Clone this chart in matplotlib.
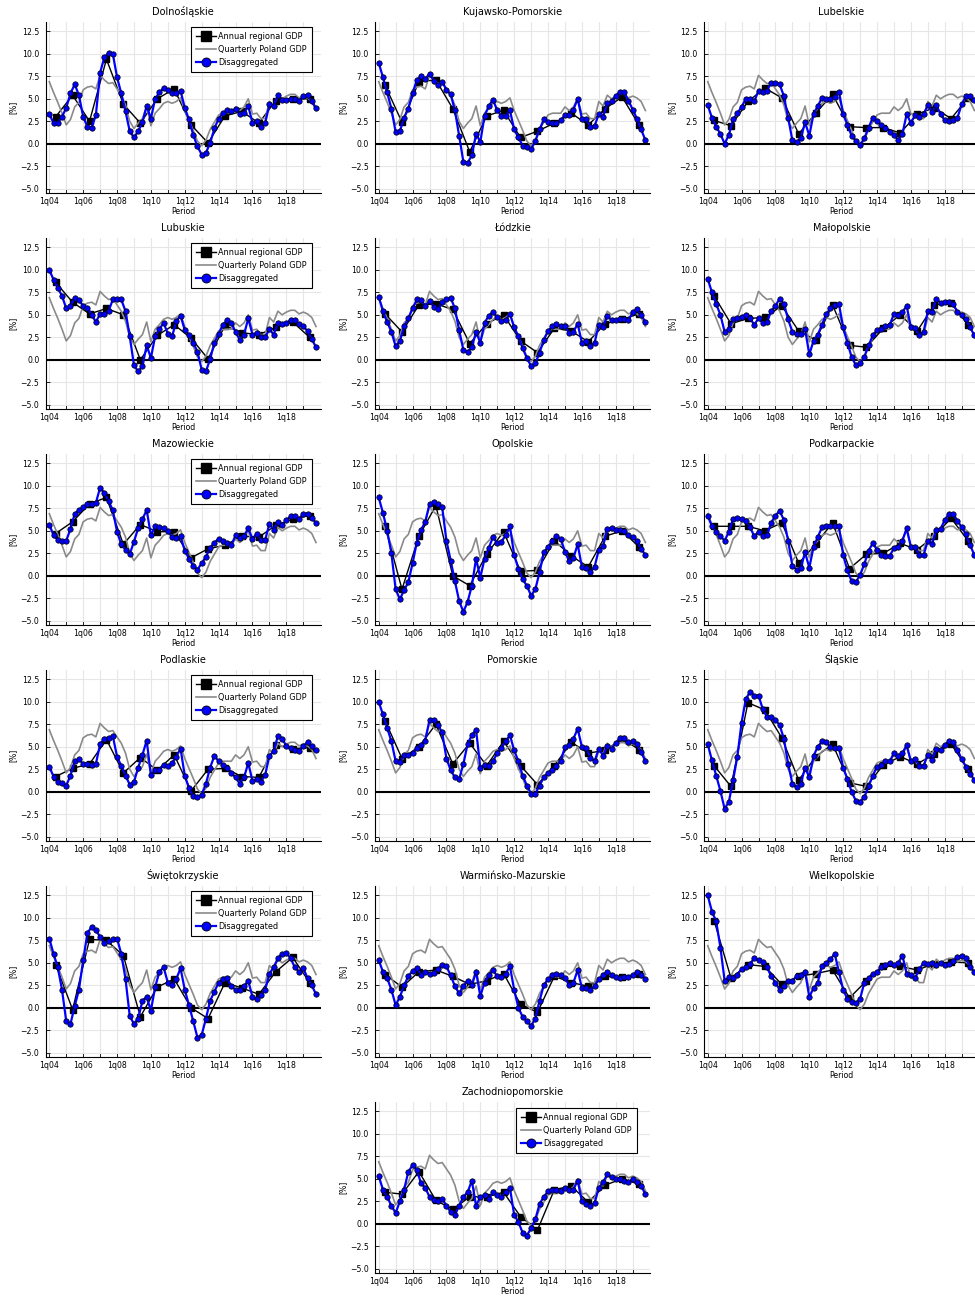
import numpy as np
import matplotlib
matplotlib.use("Agg")
import matplotlib.pyplot as plt
from matplotlib.lines import Line2D

plt.rcParams['font.family'] = ['DejaVu Sans']

# ---------------------------------------------------------------- data
# quarterly index 0..63 = 1q04 .. 4q19 ; annual values sit mid-year
tick_labels = ["1q04", "1q06", "1q08", "1q10", "1q12", "1q14", "1q16", "1q18"]
y_ticks = [-5.0, -2.5, 0.0, 2.5, 5.0, 7.5, 10.0, 12.5]
legend_labels = ["Annual regional GDP", "Quarterly Poland GDP", "Disaggregated"]

poland_quarterly = [
    6.9, 5.7, 4.6, 3.4, 2.1, 2.7, 4.1, 4.6,
    6.0, 6.3, 6.4, 6.1, 7.6, 7.1, 6.7, 6.8,
    6.1, 5.4, 4.3, 2.5, 1.7, 2.3, 2.8, 4.2,
    2.0, 3.4, 3.9, 4.5, 4.7, 4.5, 4.7, 5.1,
    3.7, 2.6, 1.5, 0.3, -0.2, 0.4, 1.6, 2.4,
    3.2, 3.4, 3.4, 3.4, 4.1, 3.7, 4.1, 5.0,
    3.3, 3.4, 2.8, 2.8, 4.7, 4.2, 5.4, 5.0,
    5.3, 5.5, 5.5, 5.1, 5.3, 5.1, 4.7, 3.7]

dolnoslaskie_q = [
    3.3, 2.3, 2.3, 3.0, 4.0, 5.6, 6.6, 5.4,
    3.0, 1.9, 1.8, 3.2, 7.9, 9.6, 10.1, 10.0,
    7.4, 5.6, 3.6, 1.4, 0.7, 1.4, 2.4, 4.2,
    2.8, 5.0, 5.7, 6.2, 6.0, 5.6, 5.6, 5.9,
    4.0, 2.7, 1.0, -0.3, -1.2, -1.0, 0.1, 1.7,
    2.8, 3.4, 3.7, 3.6, 3.9, 3.3, 3.4, 4.2,
    2.3, 2.5, 1.9, 2.3, 4.4, 4.2, 5.4, 4.9,
    4.9, 5.0, 5.0, 4.7, 5.3, 5.4, 4.7, 4.0]
dolnoslaskie_a = [3.0, 5.4, 2.5, 9.4, 4.4, 2.3, 5.0, 6.1, 2.1, 0.1, 3.1, 3.6, 2.3, 4.8, 5.0, 5.0]

kujawsko_pomorskie_q = [
    9.0, 7.4, 5.7, 3.9, 1.3, 1.4, 2.9, 3.9,
    5.6, 7.1, 7.5, 7.2, 7.8, 7.0, 6.5, 6.9,
    6.0, 5.5, 3.7, 0.9, -2.0, -2.1, -1.3, 1.1,
    0.2, 3.1, 4.2, 4.9, 3.7, 3.1, 3.1, 3.7,
    1.6, 0.7, -0.2, -0.4, -0.6, 0.3, 1.6, 2.7,
    2.4, 2.3, 2.3, 2.6, 3.2, 3.2, 3.8, 5.0,
    2.8, 2.8, 1.9, 2.0, 3.3, 3.0, 4.5, 4.7,
    5.3, 5.8, 5.7, 4.8, 3.8, 2.8, 1.6, 0.4]
kujawsko_pomorskie_a = [6.5, 2.4, 6.9, 7.1, 3.9, -0.9, 3.1, 3.7, 0.7, 1.4, 2.3, 3.4, 2.1, 3.9, 5.2, 2.1]

lubelskie_q = [
    4.3, 2.9, 1.9, 1.1, 0.0, 1.0, 2.7, 3.4,
    4.1, 5.0, 5.0, 4.7, 5.9, 5.8, 5.9, 6.8,
    6.7, 6.6, 5.3, 2.9, 0.4, 0.2, 0.6, 2.4,
    0.9, 3.3, 4.2, 5.1, 5.0, 5.0, 5.2, 5.8,
    3.3, 2.1, 0.9, 0.3, -0.1, 0.6, 1.8, 2.9,
    2.5, 2.1, 1.8, 1.3, 1.0, 0.4, 1.1, 3.3,
    2.3, 3.2, 3.0, 3.3, 4.3, 3.5, 4.3, 3.3,
    2.6, 2.5, 2.6, 2.9, 4.4, 5.3, 5.3, 4.9]
lubelskie_a = [2.6, 2.0, 4.7, 6.2, 5.1, 1.1, 3.4, 5.5, 1.9, 1.8, 1.8, 1.2, 3.3, 4.0, 2.8, 5.1]

lubuskie_q = [
    10.0, 8.9, 8.0, 7.1, 5.7, 6.0, 6.9, 6.6,
    6.0, 5.8, 5.0, 4.2, 5.1, 5.1, 5.4, 6.7,
    6.7, 6.7, 5.4, 2.6, -0.6, -1.3, -0.7, 1.6,
    0.2, 2.6, 3.4, 4.1, 2.9, 2.6, 4.3, 4.9,
    3.3, 2.8, 1.9, 0.9, -1.1, -1.3, 0.1, 1.9,
    2.9, 3.9, 4.4, 4.1, 3.1, 2.2, 2.8, 4.6,
    2.8, 3.0, 2.5, 2.5, 3.4, 2.8, 4.1, 4.0,
    4.1, 4.4, 4.4, 4.0, 3.7, 3.2, 2.3, 1.4]
lubuskie_a = [8.6, 6.4, 5.1, 5.7, 5.0, 0.0, 2.7, 3.9, 2.4, 0.1, 3.8, 3.0, 2.8, 3.6, 4.2, 2.5]

lodzkie_q = [
    7.0, 5.4, 4.2, 3.1, 1.5, 2.1, 3.7, 4.6,
    5.7, 6.7, 6.6, 6.0, 6.5, 5.9, 5.6, 6.4,
    6.7, 6.9, 5.7, 3.3, 1.1, 0.9, 1.4, 3.1,
    1.9, 4.1, 4.9, 5.3, 4.7, 4.3, 4.4, 5.1,
    3.6, 2.6, 1.3, 0.2, -0.7, -0.4, 0.8, 2.2,
    3.2, 3.7, 4.0, 3.7, 3.7, 3.0, 3.1, 4.0,
    1.9, 2.1, 1.5, 1.9, 3.9, 3.6, 4.9, 4.4,
    4.4, 4.5, 4.5, 4.4, 5.3, 5.6, 5.0, 4.2]
lodzkie_a = [5.1, 3.1, 6.1, 6.2, 5.6, 1.8, 4.0, 5.0, 2.1, 0.8, 3.5, 3.2, 2.0, 4.0, 4.5, 5.1]

malopolskie_q = [
    9.0, 7.5, 6.2, 5.0, 3.1, 3.4, 4.5, 4.6,
    4.8, 5.0, 4.6, 3.9, 4.6, 4.1, 4.2, 5.4,
    6.0, 6.8, 6.2, 4.5, 3.1, 2.9, 2.9, 3.4,
    0.6, 2.1, 2.8, 3.9, 5.1, 5.7, 6.1, 6.2,
    3.6, 1.9, 0.3, -0.6, -0.4, 0.3, 1.6, 2.7,
    3.3, 3.4, 3.7, 3.9, 5.1, 5.0, 5.3, 6.0,
    3.6, 3.5, 2.8, 3.1, 5.4, 5.3, 6.8, 6.3,
    6.4, 6.4, 6.2, 5.3, 5.0, 4.5, 3.6, 2.7]
malopolskie_a = [7.1, 4.0, 4.6, 4.7, 6.0, 3.2, 2.2, 6.1, 1.6, 1.4, 3.5, 5.0, 3.2, 6.1, 6.3, 3.9]

mazowieckie_q = [
    5.7, 4.5, 4.0, 3.9, 3.9, 5.2, 6.9, 7.3,
    7.6, 8.0, 8.0, 8.1, 9.8, 9.2, 8.3, 7.3,
    4.9, 3.5, 2.9, 2.4, 3.8, 5.3, 6.3, 7.3,
    4.5, 5.5, 5.4, 5.3, 5.0, 4.3, 4.2, 4.4,
    2.8, 1.9, 1.1, 0.7, 1.4, 2.1, 3.1, 3.7,
    4.1, 3.9, 3.7, 3.4, 4.5, 4.2, 4.4, 5.3,
    4.1, 4.7, 4.0, 4.0, 5.8, 5.1, 6.0, 5.6,
    6.2, 6.6, 6.6, 6.3, 6.9, 6.9, 6.4, 5.9]
mazowieckie_a = [4.7, 6.0, 8.0, 8.7, 3.5, 5.7, 4.9, 4.9, 2.0, 3.0, 3.4, 4.4, 4.3, 5.6, 6.3, 6.7]

opolskie_q = [
    8.7, 7.0, 5.0, 2.5, -1.5, -2.6, -1.6, -0.7,
    1.4, 3.7, 5.1, 6.0, 8.0, 8.2, 8.0, 7.6,
    3.9, 1.7, -0.6, -2.8, -4.0, -2.9, -1.1, 1.9,
    -0.2, 1.9, 3.1, 4.3, 3.6, 3.8, 4.5, 5.5,
    2.3, 0.8, -0.4, -1.1, -2.2, -1.5, 0.4, 2.6,
    3.2, 3.9, 4.4, 4.1, 2.7, 1.6, 2.0, 3.5,
    1.0, 0.9, 0.4, 1.0, 2.9, 3.3, 5.2, 5.3,
    5.1, 5.1, 5.0, 4.5, 4.3, 3.9, 3.0, 2.3]
opolskie_a = [5.5, -1.5, 4.4, 7.8, 0.0, -1.1, 2.4, 4.9, 0.5, 0.6, 3.9, 2.2, 1.0, 4.4, 5.0, 3.2]

podkarpackie_q = [
    6.7, 5.5, 4.9, 4.4, 3.9, 4.9, 6.3, 6.4,
    6.3, 6.1, 5.4, 4.4, 4.9, 4.4, 4.5, 5.9,
    6.7, 7.2, 6.2, 3.9, 1.1, 0.7, 0.9, 2.6,
    0.9, 3.2, 4.3, 5.4, 5.5, 5.5, 5.5, 5.5,
    2.3, 0.6, -0.6, -0.7, 0.1, 1.3, 2.8, 3.6,
    2.9, 2.3, 2.2, 2.2, 3.1, 3.2, 3.9, 5.3,
    3.2, 3.2, 2.3, 2.3, 3.9, 3.5, 5.1, 5.2,
    6.2, 6.9, 6.9, 6.1, 5.4, 4.6, 3.4, 2.3]
podkarpackie_a = [5.5, 5.5, 5.5, 5.0, 5.9, 1.4, 3.5, 5.9, 0.8, 2.4, 2.5, 3.6, 2.9, 4.4, 6.4, 3.9]

podlaskie_q = [
    2.8, 1.7, 1.1, 1.0, 0.7, 1.8, 3.4, 3.6,
    3.1, 3.1, 3.0, 3.1, 5.3, 5.9, 6.0, 6.2,
    3.9, 2.9, 1.8, 0.8, 1.1, 2.7, 4.1, 5.7,
    1.9, 2.4, 2.4, 3.0, 2.9, 3.2, 3.9, 4.8,
    1.8, 0.4, -0.5, -0.6, -0.3, 0.9, 2.7, 4.0,
    3.4, 3.0, 2.7, 2.1, 1.6, 0.9, 1.6, 3.2,
    1.2, 1.4, 1.1, 1.9, 4.0, 4.5, 6.2, 5.9,
    5.1, 4.9, 4.7, 4.5, 5.1, 5.5, 5.1, 4.6]
podlaskie_a = [1.7, 2.6, 3.1, 5.8, 2.1, 3.8, 2.4, 4.1, 0.1, 2.5, 2.6, 1.7, 1.6, 5.2, 4.8, 4.9]

pomorskie_q = [
    10.0, 8.6, 7.1, 5.6, 3.4, 3.3, 4.1, 4.1,
    4.3, 4.9, 5.2, 5.7, 8.0, 8.0, 7.4, 6.6,
    3.7, 2.4, 1.6, 1.4, 3.1, 5.3, 6.3, 6.9,
    2.7, 3.0, 2.9, 3.4, 4.3, 4.9, 5.6, 6.3,
    4.6, 3.4, 1.8, 0.7, -0.2, -0.2, 0.7, 1.6,
    2.1, 2.4, 2.9, 3.4, 5.0, 5.2, 5.9, 7.0,
    5.0, 4.9, 3.8, 3.4, 4.8, 4.0, 5.1, 4.8,
    5.4, 6.0, 6.0, 5.5, 5.6, 5.3, 4.4, 3.4]
pomorskie_a = [7.9, 3.7, 5.0, 7.5, 3.1, 5.4, 2.9, 5.6, 2.9, 0.8, 2.9, 5.5, 4.3, 4.6, 5.9, 4.7]

slaskie_q = [
    5.3, 3.5, 1.8, 0.1, -1.9, -1.1, 1.3, 3.9,
    7.7, 10.3, 11.1, 10.7, 10.7, 9.2, 8.3, 8.3,
    8.0, 7.4, 5.9, 3.1, 0.9, 0.5, 0.9, 2.7,
    1.6, 4.0, 5.0, 5.6, 5.5, 5.0, 4.9, 4.9,
    2.7, 1.4, 0.0, -1.0, -1.1, -0.6, 0.6, 1.8,
    2.8, 3.0, 3.4, 3.4, 4.3, 4.0, 4.3, 5.2,
    3.4, 3.7, 2.9, 2.9, 4.1, 3.5, 4.8, 4.7,
    5.2, 5.6, 5.5, 4.7, 3.6, 2.8, 2.0, 1.3]
slaskie_a = [2.9, 0.6, 9.9, 9.1, 6.0, 1.3, 3.9, 5.3, 1.0, 0.6, 3.0, 3.9, 3.1, 4.2, 5.3, 2.5]

swietokrzyskie_q = [
    7.7, 6.0, 4.5, 2.0, -1.5, -1.8, 0.2, 2.0,
    5.3, 8.3, 9.0, 8.6, 7.9, 7.2, 7.4, 7.6,
    7.7, 6.0, 3.2, -0.9, -1.8, -1.2, 0.8, 1.2,
    -0.3, 2.3, 4.0, 4.5, 2.8, 2.5, 3.2, 4.4,
    2.0, 0.3, -1.5, -3.3, -3.0, -1.2, 0.8, 1.8,
    2.8, 3.2, 3.3, 2.4, 2.0, 2.0, 2.4, 3.0,
    1.2, 1.0, 1.4, 2.0, 3.8, 4.5, 5.5, 6.0,
    6.1, 5.5, 4.5, 4.0, 4.4, 3.3, 2.5, 1.5]
swietokrzyskie_a = [4.8, -0.2, 7.6, 7.5, 5.8, -1.0, 2.3, 3.2, 0.0, -1.2, 2.8, 2.2, 1.5, 4.0, 5.6, 2.8]

warminsko_mazurskie_q = [
    5.3, 4.0, 3.3, 2.0, 0.3, 1.2, 2.5, 3.5,
    4.1, 4.4, 3.7, 4.0, 3.8, 3.9, 4.3, 4.8,
    4.6, 3.6, 2.4, 1.6, 2.4, 3.0, 2.5, 4.0,
    1.3, 2.8, 3.7, 4.2, 3.5, 3.4, 3.8, 4.6,
    2.0, 0.0, -1.0, -1.5, -2.0, -1.2, 0.8, 2.5,
    3.2, 3.6, 3.8, 3.6, 3.3, 2.5, 2.8, 4.2,
    2.2, 2.2, 2.0, 2.4, 3.2, 3.6, 4.0, 3.7,
    3.4, 3.3, 3.4, 3.4, 3.6, 4.0, 3.7, 3.2]
warminsko_mazurskie_a = [3.7, 2.3, 4.0, 4.2, 3.5, 2.6, 3.0, 3.8, 0.4, -0.5, 3.5, 2.8, 2.4, 3.5, 3.4, 3.8]

wielkopolskie_q = [
    12.5, 10.7, 9.6, 6.7, 3.0, 3.4, 3.3, 3.7,
    4.3, 4.5, 4.9, 5.5, 5.3, 5.1, 4.5, 3.5,
    2.8, 2.0, 2.4, 3.0, 3.0, 3.5, 3.7, 4.0,
    1.2, 2.2, 2.8, 4.7, 5.0, 5.4, 6.0, 4.0,
    2.0, 1.0, 0.7, 0.5, 1.0, 2.8, 3.3, 3.8,
    4.0, 4.5, 4.8, 5.0, 4.8, 5.0, 5.8, 3.8,
    3.6, 3.3, 4.3, 5.0, 4.9, 5.0, 4.8, 5.0,
    4.8, 4.9, 5.2, 5.6, 5.8, 5.5, 4.5, 4.0]
wielkopolskie_a = [9.7, 3.3, 4.8, 4.6, 2.6, 3.5, 3.8, 4.2, 1.1, 3.0, 4.6, 4.6, 4.2, 4.9, 5.1, 5.0]

zachodniopomorskie_q = [
    5.3, 3.8, 3.0, 2.0, 1.2, 2.5, 3.8, 5.8,
    6.5, 6.0, 4.5, 4.0, 3.0, 2.7, 2.5, 2.8,
    2.0, 1.3, 1.0, 2.0, 3.0, 3.5, 4.8, 2.0,
    3.0, 3.2, 2.8, 3.5, 3.2, 3.0, 3.5, 4.0,
    1.0, 0.2, -1.0, -1.3, -0.5, 0.5, 2.2, 3.0,
    3.6, 3.8, 3.8, 3.6, 4.0, 3.8, 3.8, 4.8,
    2.5, 2.2, 2.0, 2.3, 4.0, 4.6, 5.5, 5.2,
    5.0, 5.0, 4.8, 4.6, 5.0, 4.7, 4.2, 3.3]
zachodniopomorskie_a = [3.5, 3.3, 5.8, 2.6, 1.6, 3.0, 3.0, 3.5, 0.8, -0.7, 3.8, 4.2, 2.4, 4.3, 5.0, 4.4]

regions = [
    ("Dolnośląskie", dolnoslaskie_q, dolnoslaskie_a),
    ("Kujawsko-Pomorskie", kujawsko_pomorskie_q, kujawsko_pomorskie_a),
    ("Lubelskie", lubelskie_q, lubelskie_a),
    ("Lubuskie", lubuskie_q, lubuskie_a),
    ("Łódzkie", lodzkie_q, lodzkie_a),
    ("Małopolskie", malopolskie_q, malopolskie_a),
    ("Mazowieckie", mazowieckie_q, mazowieckie_a),
    ("Opolskie", opolskie_q, opolskie_a),
    ("Podkarpackie", podkarpackie_q, podkarpackie_a),
    ("Podlaskie", podlaskie_q, podlaskie_a),
    ("Pomorskie", pomorskie_q, pomorskie_a),
    ("Śląskie", slaskie_q, slaskie_a),
    ("Świętokrzyskie", swietokrzyskie_q, swietokrzyskie_a),
    ("Warmińsko-Mazurskie", warminsko_mazurskie_q, warminsko_mazurskie_a),
    ("Wielkopolskie", wielkopolskie_q, wielkopolskie_a),
    ("Zachodniopomorskie", zachodniopomorskie_q, zachodniopomorskie_a),
]

# ---------------------------------------------------------------- layout
W, H = 975, 1296
fig = plt.figure(figsize=(W / 100, H / 100), dpi=100)
fig.patch.set_facecolor("white")

XMIN, XMAX = -0.9, 64.1
YMIN, YMAX = -5.5, 13.5
PX_PER_Q = 4.233
AX_W = (XMAX - XMIN) * PX_PER_Q
AX_H = 171.0
COL_LEFT = [45.5, 374.9, 703.9]
ROW_TOP0 = 22.3
ROW_PITCH = 216.0

BLUE = "#0000ff"
GRAY = "#8a8a8a"
GRID = "#e6e6e6"


def legend_handles():
    return [
        Line2D([], [], color="black", lw=1.0, marker="s", ms=7, mfc="black", mec="black"),
        Line2D([], [], color=GRAY, lw=1.2),
        Line2D([], [], color=BLUE, lw=1.6, marker="o", ms=6.5, mfc=BLUE, mec="black", mew=0.6),
    ]


for k, (name, disagg, annual) in enumerate(regions):
    if k < 15:
        r, c = divmod(k, 3)
    else:
        r, c = 5, 1
    left = COL_LEFT[c]
    top = ROW_TOP0 + r * ROW_PITCH
    ax = fig.add_axes([left / W, 1 - (top + AX_H) / H, AX_W / W, AX_H / H])

    q_x = np.arange(len(disagg))
    a_x = 4 * np.arange(len(annual)) + 1.5

    ax.axhline(0, color="black", lw=1.5, zorder=1.5)
    ax.plot(a_x, annual, color="black", lw=1.0, marker="s", ms=4.3,
            mfc="black", mec="black", zorder=3)
    ax.plot(np.arange(len(poland_quarterly)), poland_quarterly, color=GRAY, lw=1.2, zorder=3.5)
    ax.plot(q_x, disagg, color=BLUE, lw=1.6, marker="o", ms=3.9,
            mfc=BLUE, mec="black", mew=0.5, zorder=4)

    ax.set_xlim(XMIN, XMAX)
    ax.set_ylim(YMIN, YMAX)
    ax.set_xticks(np.arange(0, 64, 8))
    ax.set_xticklabels(tick_labels)
    ax.set_xticks(np.arange(4, 64, 8), minor=True)
    ax.set_yticks(y_ticks)
    ax.set_yticklabels([f"{v:.1f}".replace("-", "\u2212") for v in y_ticks])
    ax.grid(True, which="both", axis="x", color=GRID, lw=0.8)
    ax.grid(True, which="major", axis="y", color=GRID, lw=0.8)
    ax.set_axisbelow(True)

    for side in ("top", "right"):
        ax.spines[side].set_visible(False)
    for side in ("left", "bottom"):
        ax.spines[side].set_linewidth(0.8)
        ax.spines[side].set_color("black")

    ax.tick_params(which="both", direction="in", length=3, width=0.6,
                   labelsize=5.6, colors="black")
    ax.tick_params(axis="y", pad=4.5)
    ax.tick_params(axis="x", pad=3.0)

    ax.set_title(name, fontsize=7, pad=5)
    ax.set_xlabel("Period", fontsize=5.6, labelpad=0.5)
    ax.set_ylabel("[%]", fontsize=5.6, labelpad=2)

    if c == 0 or k == 15:
        anchor = (0.967, 0.973) if c == 0 else (0.952, 0.967)
        leg = ax.legend(legend_handles(), legend_labels, loc="upper right",
                        bbox_to_anchor=anchor, fontsize=5.9, frameon=True,
                        fancybox=False, edgecolor="black", framealpha=1,
                        borderpad=0.6, labelspacing=0.5, handlelength=2.4,
                        handletextpad=0.3, borderaxespad=0, numpoints=1)
        leg.get_frame().set_linewidth(0.8)
        leg.set_zorder(10)

fig.savefig("out.png", dpi=100, facecolor="white")
